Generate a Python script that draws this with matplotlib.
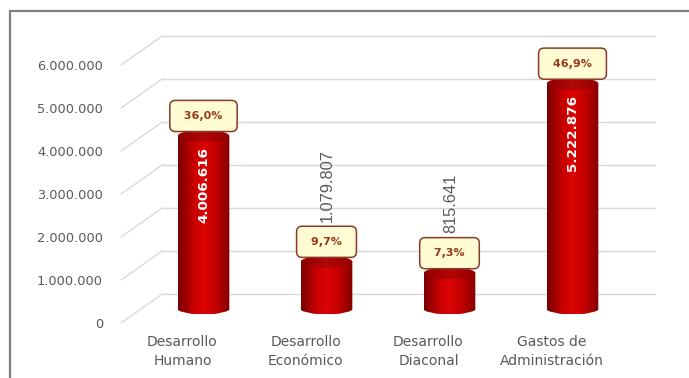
import numpy as np
import matplotlib.pyplot as plt
from matplotlib.patches import Ellipse, PathPatch, Rectangle, ConnectionPatch
from matplotlib.path import Path
from matplotlib.transforms import ScaledTranslation, Affine2D
from matplotlib.colors import LinearSegmentedColormap

categories = ["Desarrollo\nHumano", "Desarrollo\nEconómico", "Desarrollo\nDiaconal", "Gastos de\nAdministración"]
values = [4006616, 1079807, 815641, 5222876]
label_inside = [True, False, False, True]
yticks = [0, 1000000, 2000000, 3000000, 4000000, 5000000, 6000000]

GRID = "#d9d9d9"
TEXT = "#595959"
BAR_W = 0.42
RY = 0.14e6  # half height of the cylinder ellipses, in data units

body_cmap = LinearSegmentedColormap.from_list(
    "body", [(0, "#7a0000"), (0.3, "#c80000"), (0.5, "#dd0404"), (0.75, "#c00000"), (1, "#860000")])
top_cmap = LinearSegmentedColormap.from_list(
    "top", [(0, "#8e0000"), (0.5, "#b30606"), (1, "#940000")])


def fmt_thousands(v):
    return f"{v:,}".replace(",", ".")


def draw_cylinder(ax, x, v, trans):
    # body: rectangle down to the floor plus the front half of the bottom ellipse
    arc = Path.arc(180, 360).transformed(Affine2D().scale(BAR_W / 2, RY).translate(x, 0))
    verts = [(x - BAR_W / 2, v)] + list(arc.vertices) + [(x + BAR_W / 2, v), (x - BAR_W / 2, v)]
    codes = [Path.MOVETO] + [Path.LINETO] * (len(verts) - 2) + [Path.CLOSEPOLY]
    clip = PathPatch(Path(verts, codes), transform=trans, facecolor="none", edgecolor="none")
    ax.add_patch(clip)
    grad = np.linspace(0, 1, 64).reshape(1, -1)
    im = ax.imshow(grad, cmap=body_cmap, aspect="auto", interpolation="bilinear",
                   extent=(x - BAR_W / 2, x + BAR_W / 2, -RY, v), transform=trans, zorder=3)
    im.set_clip_path(clip)

    top = Ellipse((x, v), BAR_W, 2 * RY, transform=trans, facecolor="none", edgecolor="none")
    ax.add_patch(top)
    im2 = ax.imshow(grad, cmap=top_cmap, aspect="auto", interpolation="bilinear",
                    extent=(x - BAR_W / 2, x + BAR_W / 2, v - RY, v + RY), transform=trans, zorder=4)
    im2.set_clip_path(top)


fig = plt.figure(figsize=(6.89, 3.78), dpi=100)
ax = fig.add_axes([121 / 689, 55 / 378, 492 / 689, 258 / 378])

# outer frame, cut off on the right and at the bottom
fig.patches.append(Rectangle((10 / 689, -0.2), 1.2, 367 / 378 + 0.2, transform=fig.transFigure,
                             facecolor="none", edgecolor="#7f7f7f", linewidth=1.6))

# planes of the 3D box: front (axes), middle (bars), back wall (grid)
mid_trans = ax.transData + ScaledTranslation(0.21, 0.1475, fig.dpi_scale_trans)
back_trans = ax.transData + ScaledTranslation(0.42, 0.295, fig.dpi_scale_trans)

for t in yticks:
    ax.plot([-0.5, 3.5], [t, t], transform=back_trans, color=GRID, lw=1, clip_on=False, zorder=1)
    con = ConnectionPatch(xyA=(-0.5, t), coordsA=ax.transData, xyB=(-0.5, t), coordsB=back_trans,
                          color=GRID, lw=1, zorder=1)
    ax.add_artist(con)

total = sum(values)
xs = np.arange(len(values))
for x, v, inside in zip(xs, values, label_inside):
    draw_cylinder(ax, x, v, mid_trans)
    share = f"{100 * v / total:.1f}%".replace(".", ",")
    ax.annotate(f" {share} ", xy=(x, v), xycoords=mid_trans, xytext=(0, 20),
                textcoords="offset pixels", ha="center", va="center", fontsize=8,
                fontweight="bold", color="#983a1c", zorder=6,
                bbox=dict(boxstyle="round,pad=0.95,rounding_size=0.5", fc="#fffbd2",
                          ec="#8b3a2a", lw=1.1))
    if inside:
        ax.annotate(fmt_thousands(v), xy=(x, v), xycoords=mid_trans, xytext=(0, -11),
                    textcoords="offset pixels", ha="center", va="top", rotation=90,
                    fontsize=9.7, fontweight="bold", color="white", zorder=6)
    else:
        ax.annotate(fmt_thousands(v), xy=(x, v), xycoords=mid_trans, xytext=(1, 40),
                    textcoords="offset pixels", ha="center", va="bottom", rotation=90,
                    fontsize=11.8, family="Liberation Sans", color=TEXT, zorder=6)

ax.set_xlim(-0.5, 3.5)
ax.set_ylim(0, 6e6)
ax.set_yticks(yticks)
ax.set_yticklabels([fmt_thousands(t) for t in yticks])
ax.set_xticks(xs)
ax.set_xticklabels(categories, linespacing=1.45)
ax.tick_params(axis="y", length=0, pad=13, labelsize=9.3, labelcolor=TEXT)
ax.tick_params(axis="x", length=0, pad=9, labelsize=10, labelcolor=TEXT)
for s in ax.spines.values():
    s.set_visible(False)
ax.patch.set_visible(False)

fig.savefig("out.png", dpi=100)
